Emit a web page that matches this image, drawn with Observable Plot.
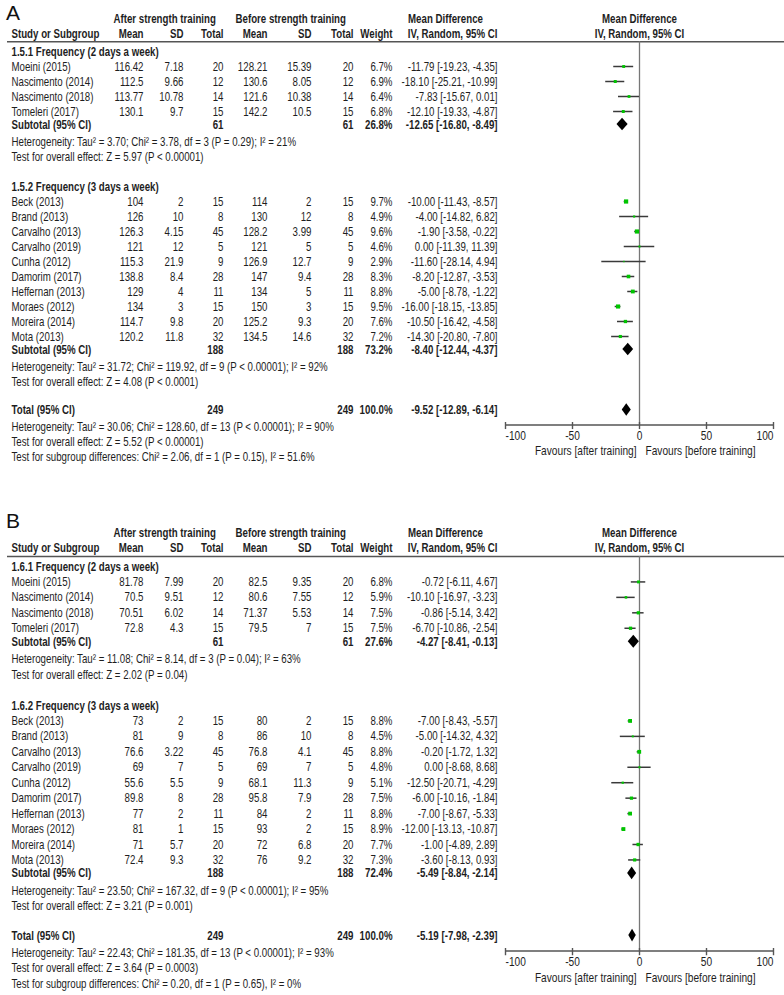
<!DOCTYPE html>
<html><head><meta charset="utf-8">
<script src="https://cdn.jsdelivr.net/npm/d3@7"></script>
<script src="https://cdn.jsdelivr.net/npm/@observablehq/plot@0.6"></script>
<style>
body{margin:0;background:#fff;}
#chart{width:784px;}
#chart svg{display:block;}
</style></head><body><div id="chart"></div>
<script>
// ---------- shared ----------
const studyNames = ["Moeini (2015)","Nascimento (2014)","Nascimento (2018)","Tomeleri (2017)","Beck (2013)","Brand (2013)","Carvalho (2013)","Carvalho (2019)","Cunha (2012)","Damorim (2017)","Heffernan (2013)","Moraes (2012)","Moreira (2014)","Mota (2013)"];
const studyGroup = [0,0,0,0,1,1,1,1,1,1,1,1,1,1];
const afterN = [20,12,14,15,15,8,45,5,9,28,11,15,20,32];
const beforeN = [20,12,14,15,15,8,45,5,9,28,11,15,20,32];
const summaryLabels = ["Subtotal (95% CI)","Subtotal (95% CI)","Total (95% CI)"];
const summaryN = [61,188,249];
const axisTicks = [-100,-50,0,50,100];
const favoursLabels = ["Favours [after training]","Favours [before training]"];

// ---------- panel A ----------
const aGroupLabels = ["1.5.1 Frequency (2 days a week)","1.5.2 Frequency (3 days a week)"];
const aAfterMean = [116.42,112.5,113.77,130.1,104,126,126.3,121,115.3,138.8,129,134,114.7,120.2];
const aAfterSD = [7.18,9.66,10.78,9.7,2,10,4.15,12,21.9,8.4,4,3,9.8,11.8];
const aBeforeMean = [128.21,130.6,121.6,142.2,114,130,128.2,121,126.9,147,134,150,125.2,134.5];
const aBeforeSD = [15.39,8.05,10.38,10.5,2,12,3.99,5,12.7,9.4,5,3,9.3,14.6];
const aWeight = [6.7,6.9,6.4,6.8,9.7,4.9,9.6,4.6,2.9,8.3,8.8,9.5,7.6,7.2];
const aMD = [-11.79,-18.10,-7.83,-12.10,-10.00,-4.00,-1.90,0.00,-11.60,-8.20,-5.00,-16.00,-10.50,-14.30];
const aLo = [-19.23,-25.21,-15.67,-19.33,-11.43,-14.82,-3.58,-11.39,-28.14,-12.87,-8.78,-18.15,-16.42,-20.80];
const aHi = [-4.35,-10.99,0.01,-4.87,-8.57,6.82,-0.22,11.39,4.94,-3.53,-1.22,-13.85,-4.58,-7.80];
const aSumWeight = [26.8,73.2,100.0];
const aSumMD = [-12.65,-8.40,-9.52];
const aSumLo = [-16.80,-12.44,-12.89];
const aSumHi = [-8.49,-4.37,-6.14];
const aHeterogeneity = ["Heterogeneity: Tau² = 3.70; Chi² = 3.78, df = 3 (P = 0.29); I² = 21%","Heterogeneity: Tau² = 31.72; Chi² = 119.92, df = 9 (P < 0.00001); I² = 92%","Heterogeneity: Tau² = 30.06; Chi² = 128.60, df = 13 (P < 0.00001); I² = 90%"];
const aOverall = ["Test for overall effect: Z = 5.97 (P < 0.00001)","Test for overall effect: Z = 4.08 (P < 0.0001)","Test for overall effect: Z = 5.52 (P < 0.00001)"];
const aSubgroupTest = "Test for subgroup differences: Chi² = 2.06, df = 1 (P = 0.15), I² = 51.6%";

// ---------- panel B ----------
const bGroupLabels = ["1.6.1 Frequency (2 days a week)","1.6.2 Frequency (3 days a week)"];
const bAfterMean = [81.78,70.5,70.51,72.8,73,81,76.6,69,55.6,89.8,77,81,71,72.4];
const bAfterSD = [7.99,9.51,6.02,4.3,2,9,3.22,7,5.5,8,2,1,5.7,9.3];
const bBeforeMean = [82.5,80.6,71.37,79.5,80,86,76.8,69,68.1,95.8,84,93,72,76];
const bBeforeSD = [9.35,7.55,5.53,7,2,10,4.1,7,11.3,7.9,2,2,6.8,9.2];
const bWeight = [6.8,5.9,7.5,7.5,8.8,4.5,8.8,4.8,5.1,7.5,8.8,8.9,7.7,7.3];
const bMD = [-0.72,-10.10,-0.86,-6.70,-7.00,-5.00,-0.20,0.00,-12.50,-6.00,-7.00,-12.00,-1.00,-3.60];
const bLo = [-6.11,-16.97,-5.14,-10.86,-8.43,-14.32,-1.72,-8.68,-20.71,-10.16,-8.67,-13.13,-4.89,-8.13];
const bHi = [4.67,-3.23,3.42,-2.54,-5.57,4.32,1.32,8.68,-4.29,-1.84,-5.33,-10.87,2.89,0.93];
const bSumWeight = [27.6,72.4,100.0];
const bSumMD = [-4.27,-5.49,-5.19];
const bSumLo = [-8.41,-8.84,-7.98];
const bSumHi = [-0.13,-2.14,-2.39];
const bHeterogeneity = ["Heterogeneity: Tau² = 11.08; Chi² = 8.14, df = 3 (P = 0.04); I² = 63%","Heterogeneity: Tau² = 23.50; Chi² = 167.32, df = 9 (P < 0.00001); I² = 95%","Heterogeneity: Tau² = 22.43; Chi² = 181.35, df = 13 (P < 0.00001); I² = 93%"];
const bOverall = ["Test for overall effect: Z = 2.02 (P = 0.04)","Test for overall effect: Z = 3.21 (P = 0.001)","Test for overall effect: Z = 3.64 (P = 0.0003)"];
const bSubgroupTest = "Test for subgroup differences: Chi² = 0.20, df = 1 (P = 0.65), I² = 0%";

// ---------- layout (line numbers, pixels) ----------
const FONT = '"Liberation Sans",Arial,sans-serif';
const FS = 12.6;
const SX = 0.77;   // horizontal condensing, narrow face look
const TXT = "#1e1e1e";
const L = {head1:0, head2:1, rule:1.55, group:[2.2,11.2], first:[3.2,12.2], sub:[7.07,22.07], het:[8.2,23.2], test:[9.2,24.2],
           total:26.1, totHet:27.2, totTest:28.2, subTest:29.2, axis:27.1, tickLab:27.8, favours:28.8, dia:0.42};
const columns = [
  {key:"name", dx:11, anchor:"start"},
  {key:"am", dx:143, anchor:"end"},
  {key:"asd", dx:183, anchor:"end"},
  {key:"an", dx:223, anchor:"end"},
  {key:"bm", dx:267, anchor:"end"},
  {key:"bsd", dx:311, anchor:"end"},
  {key:"bn", dx:353, anchor:"end"},
  {key:"w", dx:392, anchor:"end"},
  {key:"md", dx:497, anchor:"end"}
];
const fmtCI = (m, lo, hi) => `${m.toFixed(2)} [${lo.toFixed(2)}, ${hi.toFixed(2)}]`;

function condense(svg) {
  svg.querySelectorAll("text").forEach(t => {
    const fsEl = t.closest("[font-size]");
    if (fsEl && +fsEl.getAttribute("font-size") > 16) return;
    const w = t.getComputedTextLength();
    if (w > 0) {
      t.setAttribute("textLength", (w * SX).toFixed(2));
      t.setAttribute("lengthAdjust", "spacingAndGlyphs");
    }
  });
}

function panel(p) {
  const rows = [];
  rows.push({line:L.head2, bold:true, name:"Study or Subgroup", am:"Mean", asd:"SD", an:"Total", bm:"Mean", bsd:"SD", bn:"Total", w:"Weight", md:"IV, Random, 95% CI"});
  const studies = studyNames.map((name, i) => {
    const g = studyGroup[i];
    const k = i - studyGroup.indexOf(g);
    return {line:L.first[g] + k, name, g, am:String(p.afterMean[i]), asd:String(p.afterSD[i]), an:String(afterN[i]),
      bm:String(p.beforeMean[i]), bsd:String(p.beforeSD[i]), bn:String(beforeN[i]), w:p.weight[i].toFixed(1) + "%",
      md:fmtCI(p.md[i], p.lo[i], p.hi[i]), est:p.md[i], lo:p.lo[i], hi:p.hi[i], weight:p.weight[i], bold:false};
  });
  rows.push(...studies);
  const sumLines = [L.sub[0], L.sub[1], L.total];
  const sums = summaryLabels.map((name, k) => ({line:sumLines[k], bold:true, name, an:String(summaryN[k]), bn:String(summaryN[k]),
      w:p.sumWeight[k].toFixed(1) + "%", md:fmtCI(p.sumMD[k], p.sumLo[k], p.sumHi[k]), est:p.sumMD[k], lo:p.sumLo[k], hi:p.sumHi[k]}));
  rows.push(...sums);
  p.groupLabels.forEach((name, g) => rows.push({line:L.group[g], bold:true, name}));
  rows.push({line:L.het[0], bold:false, name:p.het[0]}, {line:L.test[0], bold:false, name:p.overall[0]});
  rows.push({line:L.het[1], bold:false, name:p.het[1]}, {line:L.test[1], bold:false, name:p.overall[1]});
  rows.push({line:L.totHet, bold:false, name:p.het[2]}, {line:L.totTest, bold:false, name:p.overall[2]}, {line:L.subTest, bold:false, name:p.subTest});

  const textMarks = [];
  for (const c of columns) {
    for (const b of [false, true]) {
      const d = rows.filter(r => r[c.key] != null && r.bold === b);
      if (!d.length) continue;
      textMarks.push(Plot.text(d, {frameAnchor:"left", dx:c.dx, y:"line", text:c.key, textAnchor:c.anchor,
        fontWeight:b ? "bold" : "normal", fill:TXT, fontSize:FS, fontFamily:FONT}));
    }
  }
  const head1 = [
    {t:"After strength training", dx:113, a:"start"},
    {t:"Before strength training", dx:235, a:"start"},
    {t:"Mean Difference", dx:445, a:"middle"}
  ];
  for (const h of head1) textMarks.push(Plot.text([h], {frameAnchor:"left", dx:h.dx, y:() => L.head1, text:"t", textAnchor:h.a,
      fontWeight:"bold", fill:TXT, fontSize:FS, fontFamily:FONT}));
  // forest-plot headers, centred on the line of no effect
  textMarks.push(Plot.text([{t:"Mean Difference", line:L.head1}, {t:"IV, Random, 95% CI", line:L.head2}], {x:() => 0, y:"line", text:"t",
      fontWeight:"bold", fill:TXT, fontSize:FS, fontFamily:FONT}));

  const diamonds = sums.flatMap((s, k) => [
    {id:k, line:s.line - L.dia, x1:s.est, x2:s.est},
    {id:k, line:s.line, x1:s.lo, x2:s.hi},
    {id:k, line:s.line + L.dia, x1:s.est, x2:s.est}
  ]);

  const tickFirst = axisTicks.slice(0, 1), tickMid = axisTicks.slice(1, -1), tickLast = axisTicks.slice(-1);
  const axisLab = (d, anchor) => Plot.text(d, {x:t => t, y:() => L.tickLab, text:t => String(t), textAnchor:anchor,
      fill:TXT, fontSize:FS + 0.6, fontFamily:FONT});

  return Plot.plot({
    width:784, height:p.height, margin:0,
    x:{domain:[axisTicks[0], axisTicks[axisTicks.length - 1]], range:[505, 773], axis:null},
    y:{domain:[0, L.subTest], range:p.yRange, axis:null},
    r:{type:"linear", domain:[0, 10], range:[0, 2.45]},
    style:{background:"#fff", fontFamily:FONT},
    marks:[
      Plot.ruleY([L.rule], {y:d => d, stroke:"#555", strokeWidth:1.5, insetLeft:7}),
      Plot.ruleX([0], {x:d => d, y1:() => L.rule, y2:() => L.axis, stroke:"#777", strokeWidth:1.3}),
      Plot.ruleY([L.axis], {y:d => d, x1:() => axisTicks[0], x2:() => axisTicks[axisTicks.length - 1], stroke:"#555", strokeWidth:1.5}),
      Plot.link(axisTicks, {x1:t => t, x2:t => t, y1:() => L.axis - 0.2, y2:() => L.axis + 0.27, stroke:"#555", strokeWidth:1.4}),
      axisLab(tickFirst, "start"), axisLab(tickMid, "middle"), axisLab(tickLast, "end"),
      Plot.text([favoursLabels[0]], {x:() => 0, y:() => L.favours, text:d => d, textAnchor:"end", dx:-3, fill:TXT, fontSize:FS + 0.6, fontFamily:FONT}),
      Plot.text([favoursLabels[1]], {x:() => 0, y:() => L.favours, text:d => d, textAnchor:"start", dx:6, fill:TXT, fontSize:FS + 0.6, fontFamily:FONT}),
      Plot.ruleY(studies, {y:"line", x1:"lo", x2:"hi", stroke:"#3a3a3a", strokeWidth:1.5}),
      Plot.dot(studies, {x:"est", y:"line", r:"weight", symbol:"square", fill:"#00c400", stroke:"none"}),
      Plot.areaX(diamonds, {y:"line", x1:"x1", x2:"x2", z:"id", fill:"#000", curve:"linear"}),
      ...textMarks,
      Plot.text([p.letter], {frameAnchor:"top-left", dx:12.5, dy:p.letterDy, text:d => d, textAnchor:"middle", lineAnchor:"middle",
        fontSize:21, fill:"#111", fontFamily:FONT})
    ]
  });
}

const chart = document.getElementById("chart");
const svgA = panel({letter:"A", groupLabels:aGroupLabels, afterMean:aAfterMean, afterSD:aAfterSD, beforeMean:aBeforeMean, beforeSD:aBeforeSD,
  weight:aWeight, md:aMD, lo:aLo, hi:aHi, sumWeight:aSumWeight, sumMD:aSumMD, sumLo:aSumLo, sumHi:aSumHi,
  het:aHeterogeneity, overall:aOverall, subTest:aSubgroupTest, height:470, yRange:[18, 456], letterDy:12.5});
const svgB = panel({letter:"B", groupLabels:bGroupLabels, afterMean:bAfterMean, afterSD:bAfterSD, beforeMean:bBeforeMean, beforeSD:bBeforeSD,
  weight:bWeight, md:bMD, lo:bLo, hi:bHi, sumWeight:bSumWeight, sumMD:bSumMD, sumLo:bSumLo, sumHi:bSumHi,
  het:bHeterogeneity, overall:bOverall, subTest:bSubgroupTest, height:525, yRange:[62, 513], letterDy:51});
chart.append(svgA, svgB);
condense(svgA);
condense(svgB);
</script></body></html>
